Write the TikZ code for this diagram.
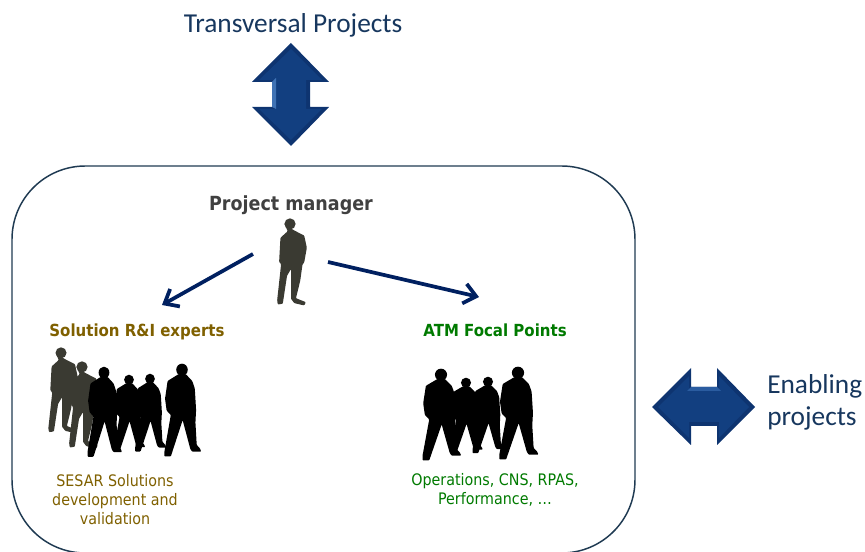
\documentclass[tikz,border=0pt]{standalone}
\usepackage{fontspec}
\setmainfont{Carlito}
\newfontfamily\labelfont[FakeStretch=0.9]{DejaVu Sans}
\usetikzlibrary{arrows.meta}
\usetikzlibrary{positioning}

\definecolor{navytext}{HTML}{17375E}
\definecolor{navyline}{HTML}{002060}
\definecolor{boxline}{HTML}{1F3A52}
\definecolor{browntext}{HTML}{7F6000}
\definecolor{greentext}{HTML}{007A00}
\definecolor{greytext}{HTML}{404040}
\definecolor{greyman}{HTML}{3A3A32}
\definecolor{arrowblue}{HTML}{123F80}
\definecolor{arrowdark}{HTML}{0E3470}
\definecolor{arrowmid}{HTML}{2A5CA0}
\definecolor{arrowlight}{HTML}{3F72B4}

\begin{document}
\begin{tikzpicture}[x=0.75pt,y=-0.75pt]
    \tikzset{
      title/.style={font=\fontsize{20.5}{24}\selectfont,text=navytext,inner sep=0mm},
      label/.style={font=\labelfont\bfseries\fontsize{14.6}{15}\selectfont,inner sep=0mm},
      teamlabel/.style={font=\labelfont\bfseries\fontsize{12.5}{15}\selectfont,inner sep=0mm},
      small/.style={font=\labelfont\fontsize{11.9}{14.2}\selectfont,align=center,inner sep=0mm},
      link/.style={draw=navyline,line width=2.8pt,-{Straight Barb[length=9pt,width=15pt]}},
      man/.pic={
        \fill[pic actions,rounded corners=0.6pt]
          (-20,17) -- (5,35) -- (20,43) -- (40,53) -- (48,90) -- (40,135)
          -- (35,140) -- (28,190) -- (15,243) -- (45,255) -- (40,265)
          -- (10,258) -- (0,245) -- (0,155) -- (-12,175) -- (-25,260)
          -- (-40,262) -- (-42,250) -- (-30,140) -- (-36,133) -- (-32,60)
          -- (-10,40) -- cycle;
        \fill[pic actions] (-3,18) circle (17);
      },
      broadman/.pic={
        \fill[pic actions,rounded corners=0.6pt]
          (-11,30) -- (-45,50) -- (-53,102) -- (-48,137) -- (-35,150) -- (-55,258)
          -- (-55,272) -- (-35,272) -- (2,165) -- (26,250) -- (32,258)
          -- (60,258) -- (56,248) -- (46,238) -- (42,172) -- (44,135) -- (40,72) -- (32,50)
          -- (12,30) -- cycle;
        \fill[pic actions] (0,17) circle (18);
      }
    }

    \useasboundingbox (0,0) rectangle (865,552);

    %Main box
    \draw[draw=boxline,line width=1.1pt,rounded corners=55] (12,166) rectangle (635,553);

    %Vertical arrow
    \fill[arrowdark] (291,43) -- (329,82) -- (310,82) -- (310,107) -- (329,107) -- (291,146)
      -- (252,107) -- (272,107) -- (272,82) -- (252,82) -- cycle;
    \fill[arrowblue] (291,49) -- (322,80) -- (306,80) -- (306,109) -- (322,109) -- (291,140)
      -- (259,109) -- (276,109) -- (276,80) -- (259,80) -- cycle;
    \fill[arrowlight] (272,82) -- (276,78) -- (276,109) -- (272,107) -- cycle;

    %Horizontal arrow
    \fill[arrowdark] (652,407) -- (691,368) -- (691,387) -- (717,387) -- (717,368) -- (755,407)
      -- (717,445) -- (717,426) -- (691,426) -- (691,445) -- cycle;
    \fill[arrowblue] (658,407) -- (689,376) -- (689,391) -- (719,391) -- (719,376) -- (749,407)
      -- (719,438) -- (719,422) -- (689,422) -- (689,438) -- cycle;
    \fill[arrowmid] (691,387) -- (717,387) -- (721,391) -- (687,391) -- cycle;

    %Titles
    \node[title] at (293,25) (transversal) {Transversal Projects};
    \node[title,align=left,anchor=west] at (767,402) (enabling) {Enabling\\projects};

    %Project manager
    \node[label,text=greytext] at (291,205) (manager) {Project manager};
    \pic[fill=greyman,scale=0.33] at (291,218) {man};

    %Labels of both teams
    \node[teamlabel,text=browntext] at (137,332) (experts) {Solution R\&I experts};
    \node[teamlabel,text=greentext] at (495,330) (focal) {ATM Focal Points};
    \node[small,text=browntext] at (115,500) (solutions) {SESAR Solutions\\development and\\validation};
    \node[small,text=greentext] at (495,490) (domains) {Operations, CNS, RPAS,\\Performance, \ldots};

    %Experts group, grey men
    \pic[fill=greyman,scale=0.325] at (62,347) {man};
    \pic[fill=greyman,scale=0.33] at (83,361) {man};
    %Experts group, black men
    \pic[fill=black,xscale=0.3,yscale=0.33] at (104,367) {broadman};
    \pic[fill=black,xscale=0.27,yscale=0.28] at (129,375) {broadman};
    \pic[fill=black,xscale=0.27,yscale=0.285] at (150,374) {broadman};
    \pic[fill=black,xscale=0.32,yscale=0.34] at (182,364) {broadman};

    %Focal points group
    \pic[fill=black,scale=0.336] at (441,369) {broadman};
    \pic[fill=black,xscale=0.28,yscale=0.278] at (466,378) {broadman};
    \pic[fill=black,xscale=0.28,yscale=0.28] at (488,377) {broadman};
    \pic[fill=black,scale=0.34] at (518,367) {broadman};

    %Arrows from the manager
    \coordinate (startleft) at (253,254);
    \coordinate (endleft) at (162,305);
    \coordinate (startright) at (328,262);
    \coordinate (endright) at (479,297);
    \draw[link] (startleft) -- (endleft);
    \draw[link] (startright) -- (endright);
\end{tikzpicture}
\end{document}
